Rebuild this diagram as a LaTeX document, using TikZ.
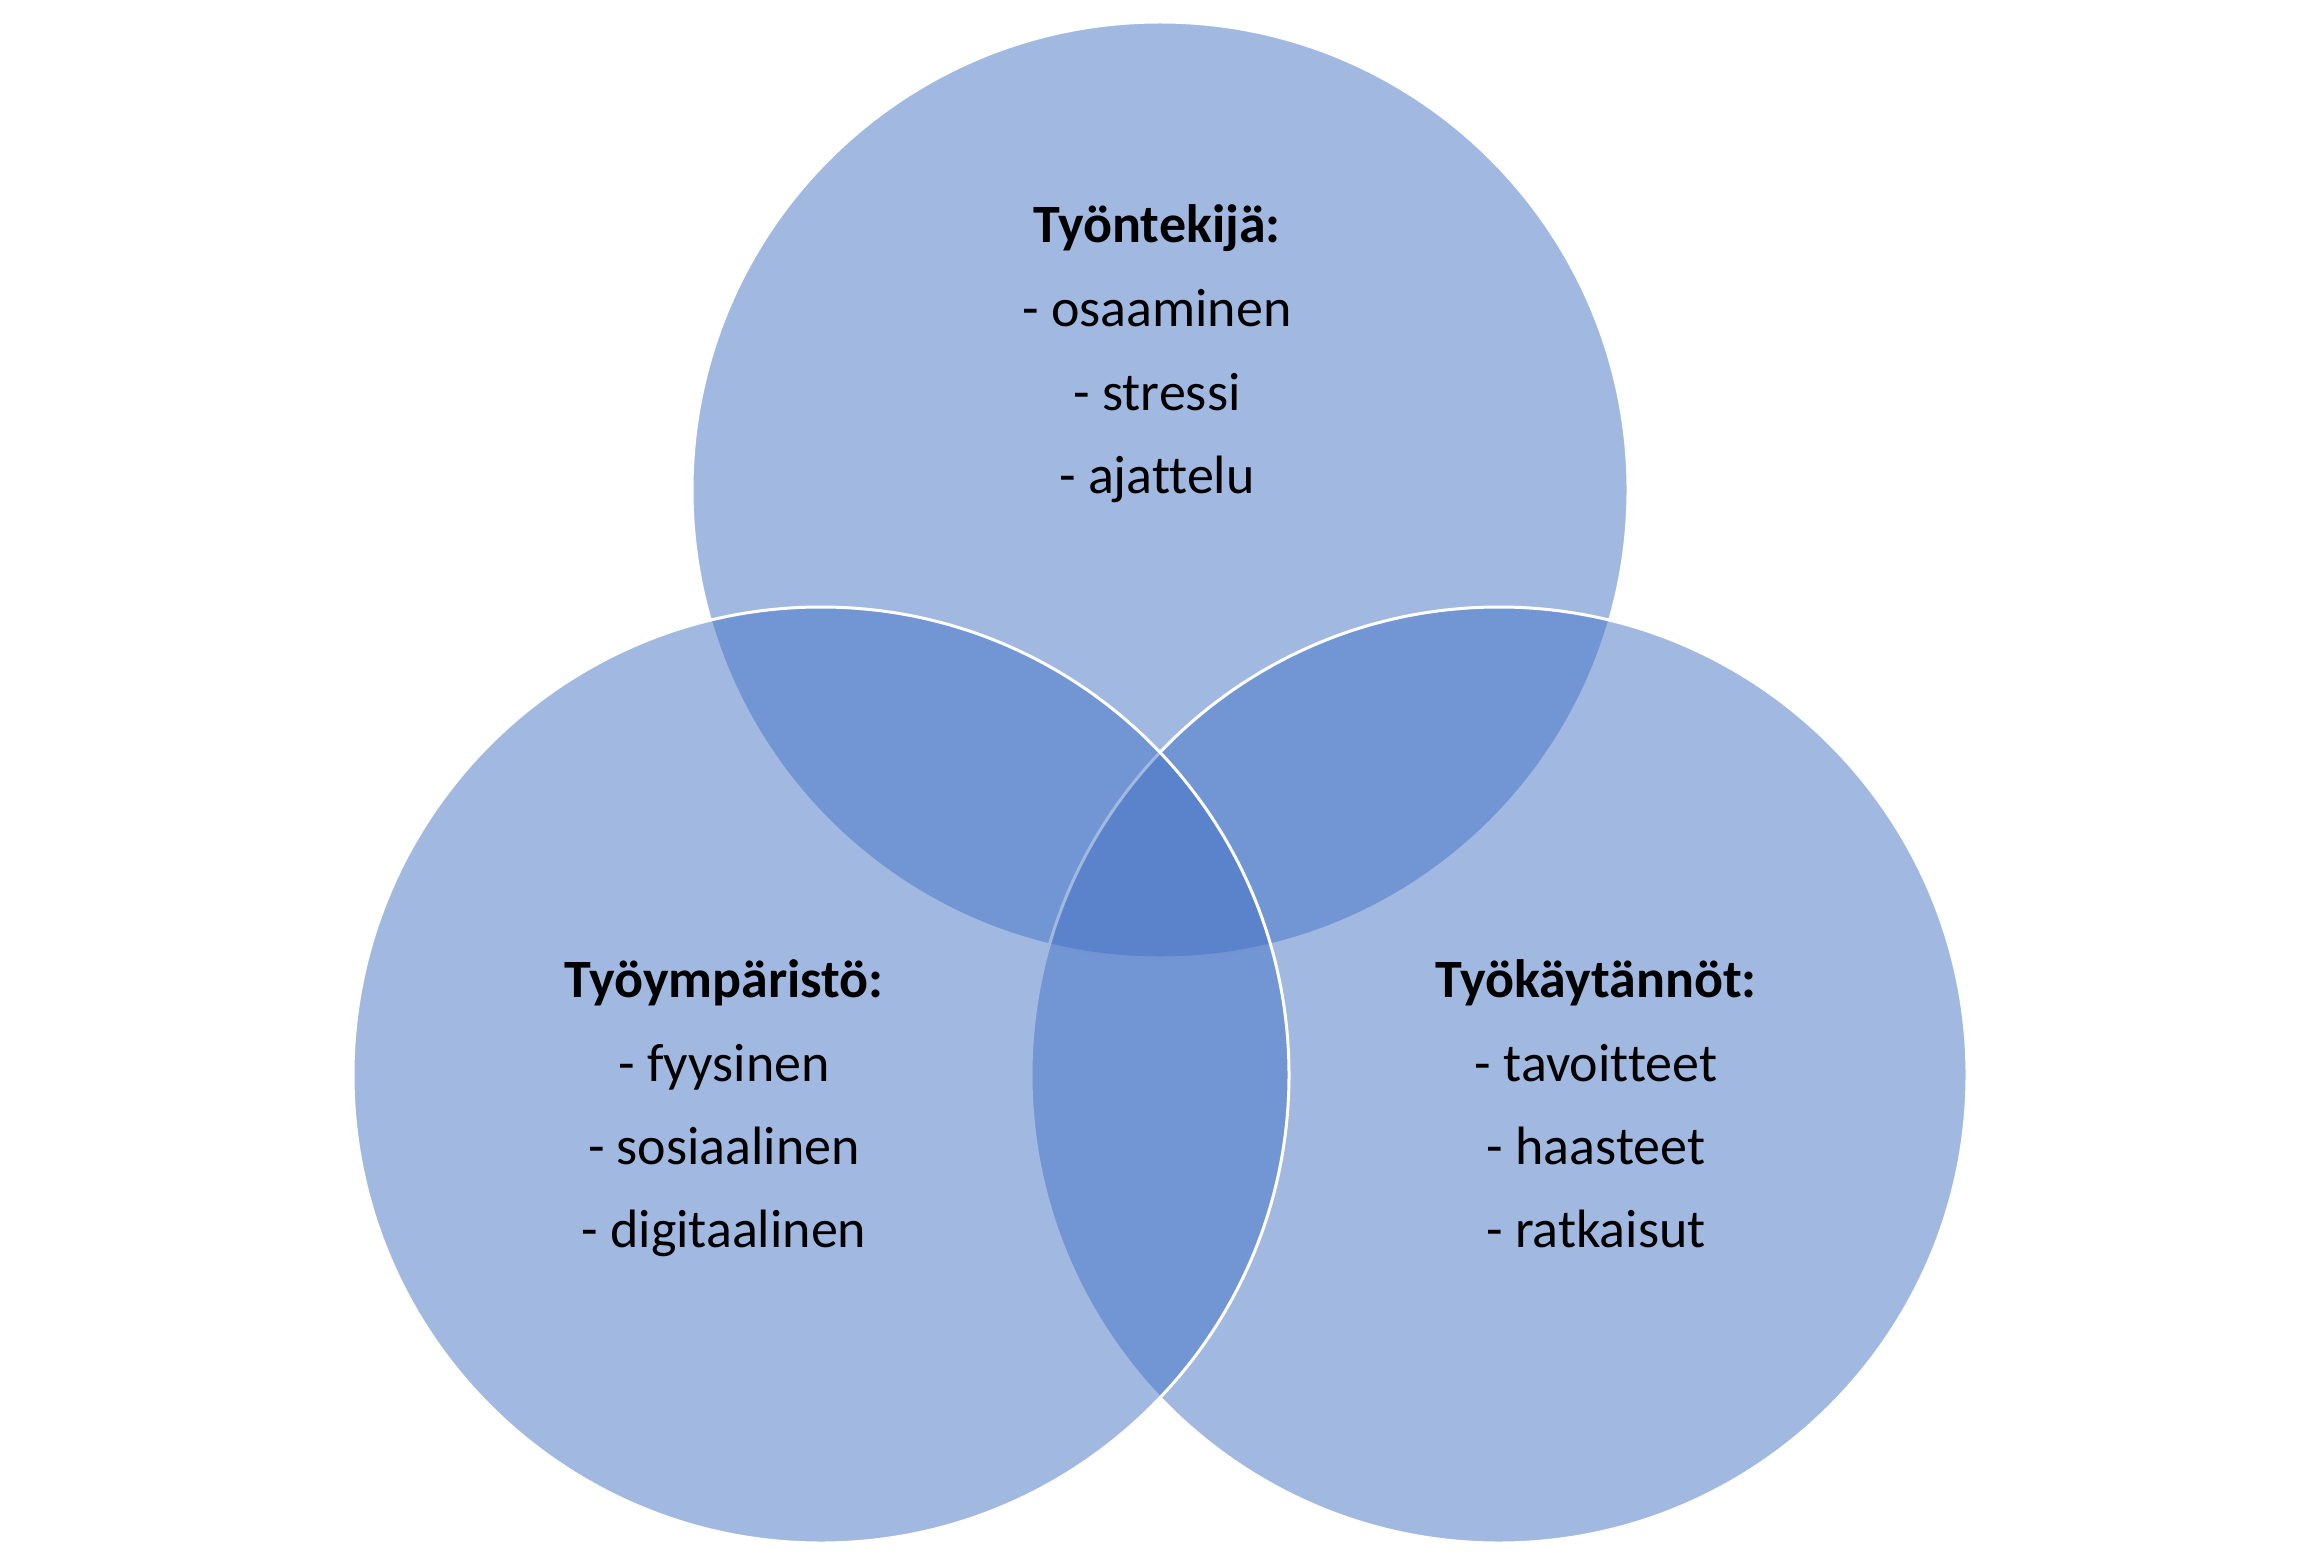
\documentclass[tikz,border=0pt]{standalone}
\usepackage{fontspec}
\setmainfont[Ligatures=NoCommon]{Carlito}
\definecolor{vennblue}{HTML}{4472C4}
\begin{document}
\begin{tikzpicture}[x=0.5pt,y=-0.5pt,
  venn/.style={circle, minimum size=468pt, inner sep=0pt, fill=vennblue, fill opacity=0.5, draw=white, draw opacity=1, line width=1.5pt},
  head/.style={anchor=base, inner sep=0pt, font=\fontsize{27}{32}\selectfont\bfseries, text=black},
  item/.style={anchor=base, inner sep=0pt, font=\fontsize{27}{32}\selectfont, text=black}]
\useasboundingbox (0,0) rectangle (2316,1567);
\node[venn] (top) at (1160,490) {};
\node[venn] (right) at (1499,1075) {};
\node[venn] (left) at (821,1075) {};
% top
\node[head] (th) at (1157,243) {Työntekijä:};
\node[item] (t1) at (1157,327) {- osaaminen};
\node[item] (t2) at (1157,410) {- stressi};
\node[item] (t3) at (1157,493) {- ajattelu};
% left
\node[head] (lh) at (724,997) {Työympäristö:};
\node[item] (l1) at (724,1081) {- fyysinen};
\node[item] (l2) at (724,1164) {- sosiaalinen};
\node[item] (l3) at (724,1247) {- digitaalinen};
% right
\node[head] (rh) at (1596,997) {Työkäytännöt:};
\node[item] (r1) at (1596,1081) {- tavoitteet};
\node[item] (r2) at (1596,1164) {- haasteet};
\node[item] (r3) at (1596,1247) {- ratkaisut};
\end{tikzpicture}
\end{document}
